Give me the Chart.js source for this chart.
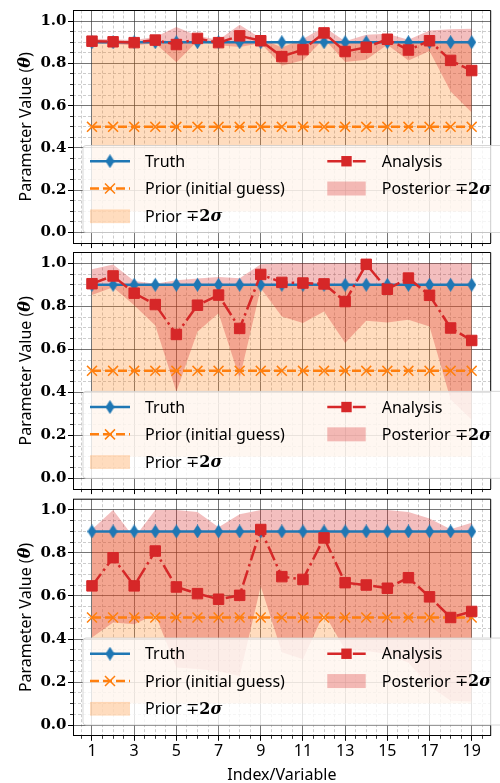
<!DOCTYPE html>
<html>
<head>
<meta charset="utf-8">
<script src="https://cdn.jsdelivr.net/npm/chart.js@4.4.1/dist/chart.umd.min.js"></script>
<style>
  html, body { margin:0; padding:0; background:#fff; }
  #wrap { position:relative; width:500px; height:783px; }
  #wrap canvas { position:absolute; left:0; top:0; }
</style>
</head>
<body>
<div id="wrap">
  <canvas id="panel1" width="500" height="783"></canvas>
  <canvas id="panel2" width="500" height="783"></canvas>
  <canvas id="panel3" width="500" height="783"></canvas>
</div>
<script>
// --- data ---
const indexVals = [1,2,3,4,5,6,7,8,9,10,11,12,13,14,15,16,17,18,19];
const truthVals = [0.9,0.9,0.9,0.9,0.9,0.9,0.9,0.9,0.9,0.9,0.9,0.9,0.9,0.9,0.9,0.9,0.9,0.9,0.9];
const priorVals = [0.5,0.5,0.5,0.5,0.5,0.5,0.5,0.5,0.5,0.5,0.5,0.5,0.5,0.5,0.5,0.5,0.5,0.5,0.5];
const priorHi   = [0.9,0.9,0.9,0.9,0.9,0.9,0.9,0.9,0.9,0.9,0.9,0.9,0.9,0.9,0.9,0.9,0.9,0.9,0.9];
const priorLo   = [0.1,0.1,0.1,0.1,0.1,0.1,0.1,0.1,0.1,0.1,0.1,0.1,0.1,0.1,0.1,0.1,0.1,0.1,0.1];

const analysis1 = [0.905,0.902,0.898,0.91,0.889,0.918,0.898,0.93,0.907,0.832,0.865,0.944,0.856,0.876,0.914,0.863,0.907,0.814,0.766];
const postHi1   = [0.917,0.913,0.911,0.925,0.972,0.93,0.91,0.983,0.919,0.875,0.915,0.972,0.905,0.935,0.94,0.912,0.956,0.961,0.964];
const postLo1   = [0.893,0.891,0.885,0.895,0.805,0.906,0.886,0.877,0.895,0.789,0.815,0.916,0.807,0.817,0.888,0.814,0.858,0.667,0.568];

const analysis2 = [0.905,0.941,0.861,0.808,0.669,0.805,0.852,0.697,0.948,0.911,0.908,0.904,0.822,0.995,0.879,0.931,0.851,0.699,0.641];
const postHi2   = [0.972,0.994,0.917,0.905,0.921,0.929,0.936,0.93,0.995,1.0,1.0,1.0,1.0,1.0,1.0,1.0,1.0,1.0,1.0];
const postLo2   = [0.852,0.888,0.805,0.711,0.403,0.681,0.768,0.464,0.884,0.752,0.722,0.776,0.629,0.733,0.725,0.737,0.706,0.366,0.273];

const analysis3 = [0.647,0.778,0.647,0.809,0.642,0.611,0.585,0.603,0.909,0.69,0.677,0.87,0.662,0.651,0.636,0.685,0.596,0.5,0.528];
const postHi3   = [0.909,1.0,0.87,1.0,1.0,0.99,0.92,0.98,1.0,1.0,1.0,1.0,1.0,1.0,1.0,0.99,0.96,0.91,0.94];
const postLo3   = [0.407,0.477,0.469,0.514,0.268,0.26,0.25,0.228,0.645,0.338,0.306,0.52,0.35,0.344,0.33,0.29,0.182,0.113,0.11];

const xMajorTicks = [1,3,5,7,9,11,13,15,17,19];
const xMinorTicks = [0.5,1.5,2,2.5,3.5,4,4.5,5.5,6,6.5,7.5,8,8.5,9.5,10,10.5,11.5,12,12.5,13.5,14,14.5,15.5,16,16.5,17.5,18,18.5,19.5];
const yMajorTicks = [0,0.2,0.4,0.6,0.8,1.0];
const yMinorTicks = [0.05,0.1,0.15,0.25,0.3,0.35,0.45,0.5,0.55,0.65,0.7,0.75,0.85,0.9,0.95];

// --- styles ---
const BLUE = '#1f77b4', ORANGE = '#ff7f0e', RED = '#d62728';
const PRIOR_FILL = 'rgba(255,127,14,0.27)', POST_FILL = 'rgba(214,39,40,0.3)';
const MAJOR_GRID = 'rgba(50,50,50,0.75)', MINOR_GRID = 'rgba(175,175,175,0.8)';
const SANS = '"Noto Sans", "DejaVu Sans", sans-serif';
const SERIF = '"DejaVu Serif", serif';
const PANEL_H = 236.6;
const LW = 2.5;

function thinDiamond(color, w, h) {
  let c = document.createElement('canvas'); c.width = w; c.height = h;
  let g = c.getContext('2d'); g.fillStyle = color;
  g.beginPath(); g.moveTo(w/2,0); g.lineTo(w,h/2); g.lineTo(w/2,h); g.lineTo(0,h/2); g.closePath(); g.fill();
  return c;
}
const diamond = thinDiamond(BLUE, 9, 14);

// draws pieces of text [str, font] one after the other
function drawPieces(ctx, pieces, x, y, align) {
  let total = 0;
  pieces.forEach(p => { ctx.font = p[1]; total += ctx.measureText(p[0]).width; });
  let cx = align === 'center' ? x - total/2 : x;
  ctx.textAlign = 'left';
  pieces.forEach(p => { ctx.font = p[1]; ctx.fillText(p[0], cx, y); cx += ctx.measureText(p[0]).width; });
}

function drawSquare(ctx, x, y, s) { ctx.fillStyle = RED; ctx.fillRect(x - s/2, y - s/2, s, s); }
function drawX(ctx, x, y, s) {
  ctx.strokeStyle = ORANGE; ctx.lineWidth = 1.5; ctx.setLineDash([]);
  ctx.beginPath(); ctx.moveTo(x-s, y-s); ctx.lineTo(x+s, y+s); ctx.moveTo(x-s, y+s); ctx.lineTo(x+s, y-s); ctx.stroke();
}

const panelDecor = {
  id: 'panelDecor',
  afterDraw(chart) {
    const {ctx, chartArea:a, scales:{y}} = chart;
    ctx.save();
    // top / right spines
    ctx.strokeStyle = '#000'; ctx.lineWidth = 1;
    ctx.beginPath(); ctx.moveTo(a.left, a.top); ctx.lineTo(a.right, a.top); ctx.lineTo(a.right, a.bottom); ctx.stroke();

    // legend box
    const p0 = y.getPixelForValue(0);
    const bx = a.left + 10, by = p0 - 87, bw = 520, bh = 87;
    ctx.beginPath(); ctx.roundRect(bx, by, bw, bh, 3);
    ctx.fillStyle = 'rgba(255,255,255,0.8)'; ctx.fill();
    ctx.strokeStyle = 'rgba(204,204,204,0.8)'; ctx.lineWidth = 1; ctx.stroke();

    const r1 = p0 - 71.3, r2 = p0 - 44, r3 = p0 - 16.3;
    const c1a = a.left + 17, c1b = a.left + 57, c1t = a.left + 72;
    const c2a = a.left + 254.3, c2b = a.left + 292.7, c2t = a.left + 308.7;
    // Truth
    ctx.strokeStyle = BLUE; ctx.lineWidth = LW; ctx.setLineDash([]);
    ctx.beginPath(); ctx.moveTo(c1a, r1); ctx.lineTo(c1b, r1); ctx.stroke();
    ctx.drawImage(diamond, (c1a+c1b)/2 - 4.5, r1 - 7);
    // Prior
    ctx.strokeStyle = ORANGE; ctx.lineWidth = LW; ctx.setLineDash([9,4]);
    ctx.beginPath(); ctx.moveTo(c1a, r2); ctx.lineTo(c1b, r2); ctx.stroke();
    drawX(ctx, (c1a+c1b)/2, r2, 5);
    // Prior band
    ctx.fillStyle = PRIOR_FILL; ctx.fillRect(c1a, r3 - 6.8, c1b - c1a, 13.7);
    // Analysis
    ctx.strokeStyle = RED; ctx.lineWidth = LW; ctx.setLineDash([15,4,2.5,4]);
    ctx.beginPath(); ctx.moveTo(c2a, r1); ctx.lineTo(c2b, r1); ctx.stroke();
    ctx.setLineDash([]);
    drawSquare(ctx, (c2a+c2b)/2, r1, 10.4);
    // Posterior band
    ctx.fillStyle = POST_FILL; ctx.fillRect(c2a, r2 - 7, c2b - c2a, 14);

    ctx.fillStyle = '#000'; ctx.textBaseline = 'middle';
    const f = '16px ' + SANS;
    drawPieces(ctx, [['Truth', f]], c1t, r1 + 1);
    drawPieces(ctx, [['Prior (initial guess)', f]], c1t, r2 + 1);
    drawPieces(ctx, [['Prior ', f], ['\u2213', '16px "DejaVu Sans"'], ['2', 'bold 16px ' + SERIF], ['\u03c3', 'italic bold 16px ' + SERIF]], c1t, r3 + 1);
    drawPieces(ctx, [['Analysis', f]], c2t, r1 + 1);
    drawPieces(ctx, [['Posterior ', f], ['\u2213', '16px "DejaVu Sans"'], ['2', 'bold 16px ' + SERIF], ['\u03c3', 'italic bold 16px ' + SERIF]], c2t, r2 + 1);

    // y axis title
    ctx.translate(26, (a.top + a.bottom)/2);
    ctx.rotate(-Math.PI/2);
    drawPieces(ctx, [['Parameter Value (', f], ['\u03b8', 'italic bold 16px ' + SERIF], [')', f]], 0, 0, 'center');
    ctx.restore();
  }
};

function makePanel(id, top, ana, hi, lo, last) {
  const bottom = top + PANEL_H;
  const pts = arr => indexVals.map((x, i) => ({x: x, y: arr[i]}));
  const band = (arr, color, fill) => ({data: pts(arr), borderWidth: 0, pointRadius: 0, backgroundColor: color, fill: fill});
  return new Chart(document.getElementById(id), {
    type: 'line',
    data: { datasets: [
      {label: 'Analysis', data: pts(ana), borderColor: RED, backgroundColor: RED, borderWidth: LW,
       borderDash: [15,4,2.5,4], pointStyle: 'rect', pointRadius: 7.4, pointBorderWidth: 1, fill: false},
      {label: 'Prior (initial guess)', data: pts(priorVals), borderColor: ORANGE, backgroundColor: ORANGE, borderWidth: LW,
       borderDash: [9,4], pointStyle: 'crossRot', pointRadius: 7, pointBorderWidth: 1.5, fill: false},
      {label: 'Truth', data: pts(truthVals), borderColor: BLUE, backgroundColor: BLUE, borderWidth: LW,
       pointStyle: diamond, pointRadius: 6, fill: false},
      band(hi, POST_FILL, '+1'),
      band(lo, 'rgba(0,0,0,0)', false),
      band(priorHi, PRIOR_FILL, '+1'),
      band(priorLo, 'rgba(0,0,0,0)', false)
    ]},
    options: {
      responsive: false, animation: false,
      layout: { padding: {top: top, left: 0, right: 9.3, bottom: 0} },
      elements: { line: {tension: 0} },
      plugins: { legend: {display: false}, tooltip: {enabled: false} },
      scales: {
        x: {
          type: 'linear', min: 0.1, max: 19.9, position: 'bottom', weight: 1,
          afterBuildTicks: s => { s.ticks = xMajorTicks.map(v => ({value: v})); },
          afterFit: s => { s.height = 783 - bottom; },
          grid: {color: MAJOR_GRID, lineWidth: 0.9, tickLength: 5, tickColor: '#000', tickWidth: 1},
          border: {display: true, color: '#000', width: 1},
          ticks: {display: last, color: '#000', font: {family: SANS, size: 16}, padding: 1, maxRotation: 0, autoSkip: false},
          title: {display: last, text: 'Index/Variable', color: '#000', font: {family: SANS, size: 16, lineHeight: 1}, padding: 0}
        },
        xMinor: {
          type: 'linear', min: 0.1, max: 19.9, position: 'bottom', weight: 0,
          afterBuildTicks: s => { s.ticks = xMinorTicks.map(v => ({value: v})); },
          afterFit: s => { s.height = 0; },
          grid: {color: MINOR_GRID, lineWidth: 0.8, tickLength: 3, tickColor: '#000', tickWidth: 0.8},
          border: {display: false, dash: [3,2]},
          ticks: {display: false}
        },
        y: {
          type: 'linear', min: -0.05, max: 1.05, position: 'left', weight: 1,
          afterBuildTicks: s => { s.ticks = yMajorTicks.map(v => ({value: v})); },
          afterFit: s => { s.width = 73; },
          grid: {color: MAJOR_GRID, lineWidth: 0.9, tickLength: 5, tickColor: '#000', tickWidth: 1},
          border: {display: true, color: '#000', width: 1},
          ticks: {color: '#000', font: {family: SERIF, size: 15, weight: 'bold'}, padding: 1.5,
                  callback: v => v.toFixed(1)}
        },
        yMinor: {
          type: 'linear', min: -0.05, max: 1.05, position: 'left', weight: 0,
          afterBuildTicks: s => { s.ticks = yMinorTicks.map(v => ({value: v})); },
          afterFit: s => { s.width = 0; },
          grid: {color: MINOR_GRID, lineWidth: 0.8, tickLength: 3, tickColor: '#000', tickWidth: 0.8},
          border: {display: false, dash: [3,2]},
          ticks: {display: false}
        }
      }
    },
    plugins: [panelDecor]
  });
}

makePanel('panel1', 6.5, analysis1, postHi1, postLo1, false);
makePanel('panel2', 252.5, analysis2, postHi2, postLo2, false);
makePanel('panel3', 499.2, analysis3, postHi3, postLo3, true);
</script>
</body>
</html>
